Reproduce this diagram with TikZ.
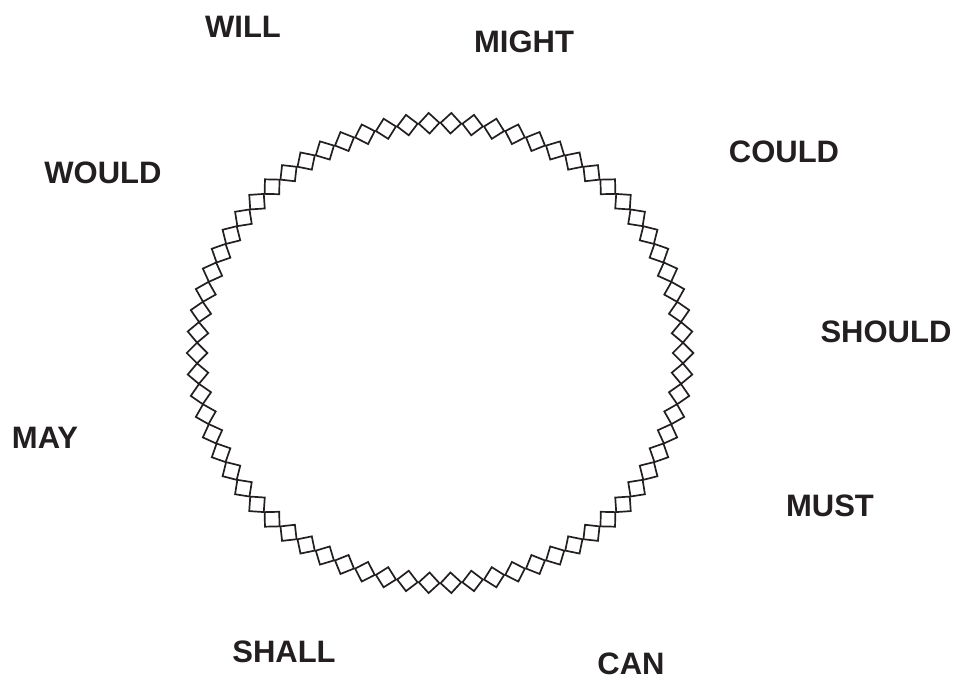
\documentclass[tikz,border=0pt]{standalone}
\usepackage{fontspec}
\setmainfont{Liberation Sans}
\definecolor{ink}{HTML}{231F20}
\begin{document}
\begin{tikzpicture}[x=1pt,y=-1pt,
  word/.style={font=\fontsize{31}{36}\selectfont\bfseries, text=ink, inner sep=0pt, anchor=center},
  link/.style={draw=ink, line width=1.7pt, line join=miter}]
\useasboundingbox (0,0) rectangle (959,680);
\foreach \i in {0,...,69}{
  \pgfmathsetmacro{\t}{\i*5.142857}
  \pgfmathsetmacro{\px}{440+243*cos(\t)}
  \pgfmathsetmacro{\py}{353-230*sin(\t)}
  \draw[link, shift={(\px,\py)}, rotate=\t]
    (10.3,0) -- (0,10.3) -- (-10.3,0) -- (0,-10.3) -- cycle;
}
\node[word] (will)   at (243,27)  {WILL};
\node[word] (might)  at (524,42)  {MIGHT};
\node[word] (could)  at (784,152) {COULD};
\node[word] (would)  at (103,173) {WOULD};
\node[word] (should) at (886,332) {SHOULD};
\node[word] (may)    at (45,438)  {MAY};
\node[word] (must)   at (830,506) {MUST};
\node[word] (shall)  at (284,652) {SHALL};
\node[word] (can)    at (631,664) {CAN};
\end{tikzpicture}
\end{document}
